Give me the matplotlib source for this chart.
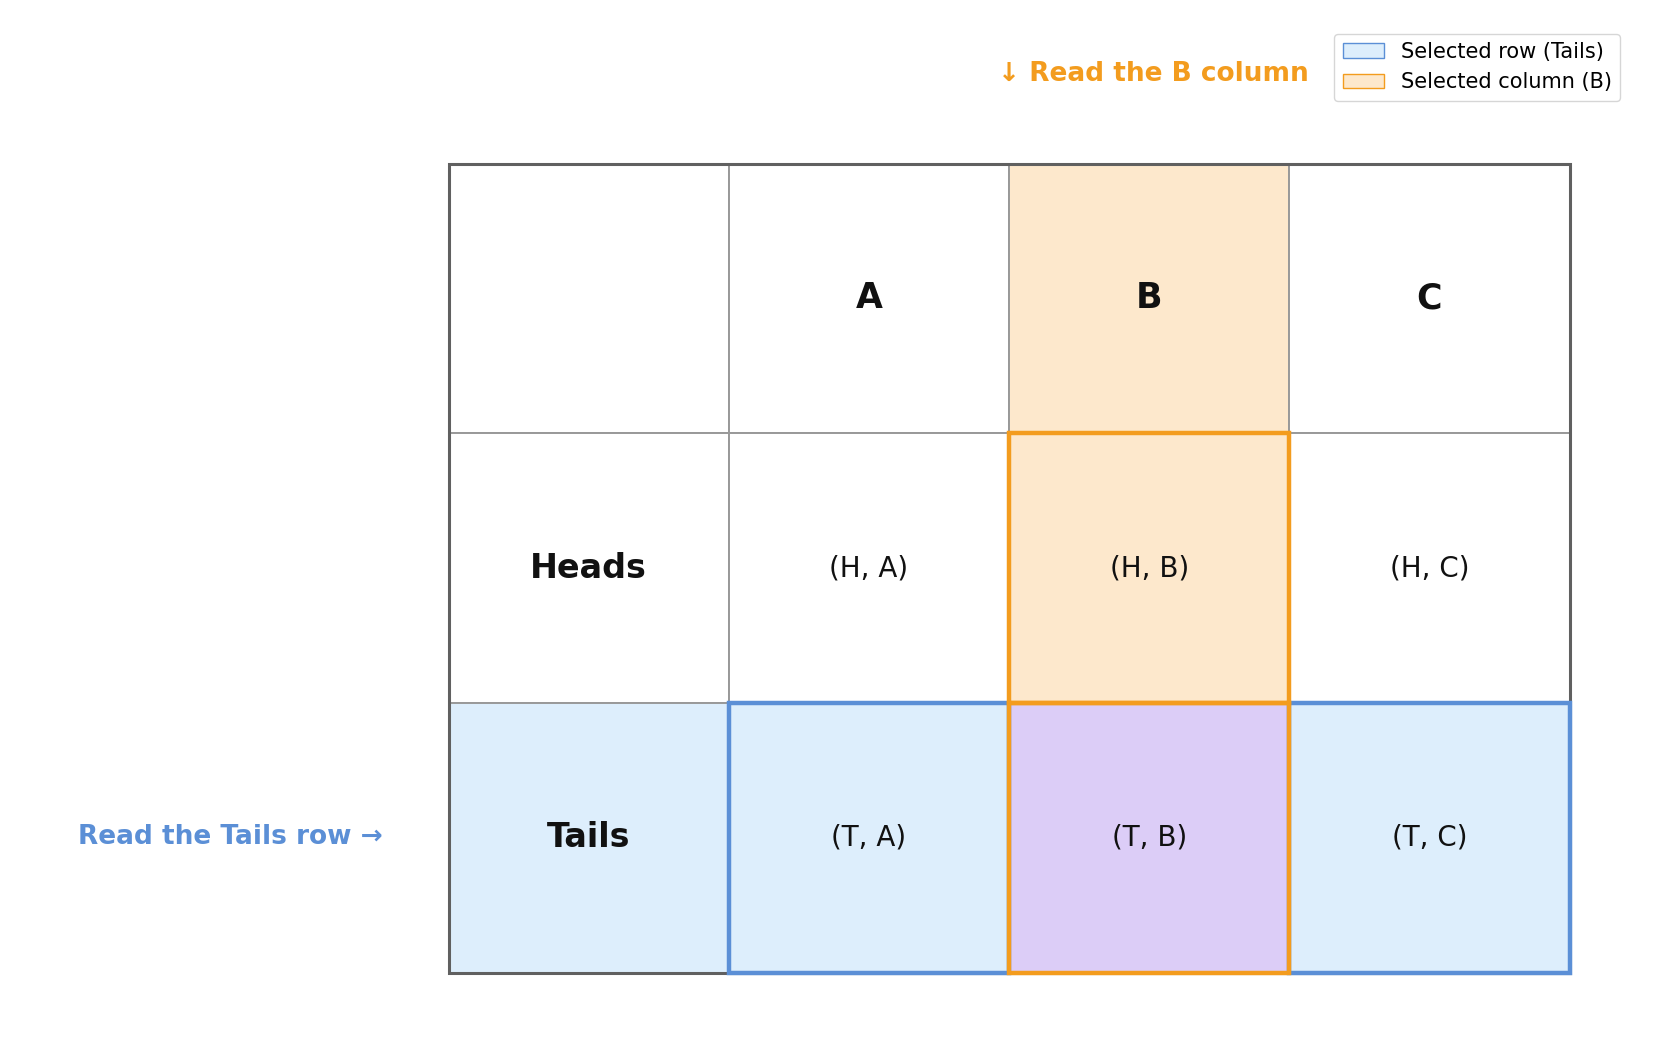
import matplotlib
matplotlib.use("Agg")
import matplotlib.pyplot as plt
from matplotlib.patches import Rectangle, Patch

cols = ["A", "B", "C"]
rows = ["Heads", "Tails"]
sel_row = "Tails"
sel_col = "B"

BLUE_F, BLUE_E = "#DDEEFC", "#5B8FD6"
OR_F, OR_E = "#FDE8CC", "#F39C1E"
PUR = "#DCCDF7"

W, H = 1568, 1000
fig = plt.figure(figsize=(16.55, 10.55), dpi=100)
ax = fig.add_axes([425/W, 1 - 922/H, 1062/W, 767/H])
ax.set_xlim(0, 4); ax.set_ylim(0, 3); ax.axis("off")

ncol = len(cols) + 1
nrow = len(rows) + 1
ci = cols.index(sel_col) + 1
ri = rows.index(sel_row) + 1

def ypos(r):
    return nrow - 1 - r

for r in range(nrow):
    for c in range(ncol):
        fc = "white"
        if r == ri and c == ci:
            fc = PUR
        elif r == ri:
            fc = BLUE_F
        elif c == ci:
            fc = OR_F
        ax.add_patch(Rectangle((c, ypos(r)), 1, 1, facecolor=fc, edgecolor="#999999", lw=1.4, zorder=1, clip_on=False))

ax.add_patch(Rectangle((0, 0), 4, 3, fill=False, edgecolor="#606060", lw=2.2, zorder=2, clip_on=False))
for c in range(1, ncol):
    if c != ci:
        ax.add_patch(Rectangle((c, ypos(ri)), 1, 1, fill=False, edgecolor=BLUE_E, lw=3.2, zorder=3, clip_on=False))
for r in range(1, nrow):
    ax.add_patch(Rectangle((ci, ypos(r)), 1, 1, fill=False, edgecolor=OR_E, lw=3.2, zorder=4, clip_on=False))

for j, cname in enumerate(cols):
    ax.text(j + 1.5, 2.5, cname, ha="center", va="center", fontsize=25, fontweight="bold", color="#111111", zorder=5)
for i, rname in enumerate(rows):
    y = ypos(i + 1) + 0.5
    ax.text(0.5, y, rname, ha="center", va="center", fontsize=24, fontweight="bold", color="#111111", zorder=5)
    for j, cname in enumerate(cols):
        ax.text(j + 1.5, y, f"({rname[0]}, {cname})", ha="center", va="center", fontsize=20, color="#111111", zorder=5)

fig.text(1240/W, 1 - 70/H, f"↓ Read the {sel_col} column", ha="right", va="center",
         fontsize=19, fontweight="bold", color=OR_E)
fig.text(363/W, 1 - 793/H, f"Read the {sel_row} row →", ha="right", va="center",
         fontsize=19, fontweight="bold", color=BLUE_E)

handles = [Patch(facecolor=BLUE_F, edgecolor=BLUE_E, label=f"Selected row ({sel_row})"),
           Patch(facecolor=OR_F, edgecolor=OR_E, label=f"Selected column ({sel_col})")]
fig.legend(handles=handles, loc="upper right", bbox_to_anchor=(1545/W, 1 - 22/H), fontsize=15)

fig.savefig("out.png", dpi=100)
